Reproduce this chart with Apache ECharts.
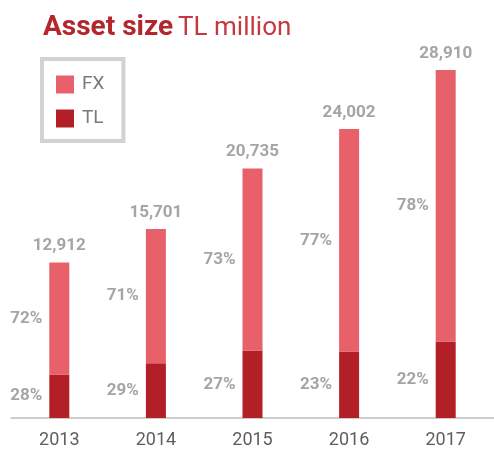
<!DOCTYPE html>
<html>
<head>
<meta charset="utf-8">
<script src="https://cdn.jsdelivr.net/npm/echarts@6/dist/echarts.min.js"></script>
<style>
  html, body { margin: 0; padding: 0; background: #fff; }
  #chart { width: 494px; height: 453px; }
</style>
</head>
<body>
<div id="chart"></div>
<script>
// data (TL million)
var years = ['2013', '2014', '2015', '2016', '2017'];
var totals = [12912, 15701, 20735, 24002, 28910];
var tlShare = [28, 29, 27, 23, 22];
var fxShare = [72, 71, 73, 77, 78];
var tlValues = [3615, 4553, 5598, 5520, 6360];
var fxValues = [9297, 11148, 15137, 18482, 22550];

var FONT = 'Roboto, "Liberation Sans", sans-serif';
var GREY = '#a5a5a5';

var chart = echarts.init(document.getElementById('chart'));

var pctLabel = function (shares) {
    return {
        show: true,
        position: 'left',
        distance: 7,
        color: GREY,
        fontFamily: FONT,
        fontWeight: 'bold',
        fontSize: 17,
        formatter: function (p) { return shares[p.dataIndex] + '%'; }
    };
};

var option = {
    animation: false,
    title: {
        left: 38,
        top: 9,
        text: '{b|Asset size} {r|TL million}',
        textStyle: {
            rich: {
                b: { fontFamily: FONT, fontWeight: 'bold', fontSize: 28, color: '#b3262c' },
                r: { fontFamily: FONT, fontWeight: 'normal', fontSize: 26, color: '#c23a40' }
            }
        }
    },
    legend: {
        orient: 'vertical',
        left: 42,
        top: 59,
        padding: [16, 19, 13, 14],
        borderColor: '#d2d2d2',
        borderWidth: 4,
        itemWidth: 18,
        itemHeight: 18,
        itemGap: 15,
        data: ['FX', 'TL'],
        icon: 'rect',
        textStyle: { fontFamily: FONT, fontSize: 19, lineHeight: 18, color: '#7a7a7a', padding: [0, 0, 0, 3] }
    },
    grid: { left: 11, right: -14, top: 70, bottom: 35 },
    xAxis: {
        type: 'category',
        data: years,
        axisLine: { lineStyle: { color: '#bdbdbd', width: 1.5 } },
        axisTick: { show: false },
        axisLabel: { margin: 13, fontFamily: FONT, fontSize: 18, color: '#5e5e5e' }
    },
    yAxis: {
        type: 'value',
        min: 0,
        max: 28910,
        show: false,
        splitLine: { show: false }
    },
    series: [
        {
            name: 'TL',
            type: 'bar',
            stack: 'size',
            barWidth: 20,
            itemStyle: { color: '#b21f27' },
            label: pctLabel(tlShare),
            data: tlValues
        },
        {
            name: 'FX',
            type: 'bar',
            stack: 'size',
            barWidth: 20,
            itemStyle: { color: '#e8606a' },
            label: pctLabel(fxShare),
            data: fxValues
        },
        {
            // totals written above each bar
            name: 'total',
            type: 'bar',
            stack: 'size',
            barWidth: 20,
            silent: true,
            itemStyle: { color: 'transparent' },
            label: {
                show: true,
                position: 'top',
                distance: 8,
                color: GREY,
                fontFamily: FONT,
                fontWeight: 'bold',
                fontSize: 17,
                formatter: function (p) { return echarts.format.addCommas(totals[p.dataIndex]); }
            },
            data: [0, 0, 0, 0, 0]
        }
    ]
};

chart.setOption(option);
</script>
</body>
</html>
